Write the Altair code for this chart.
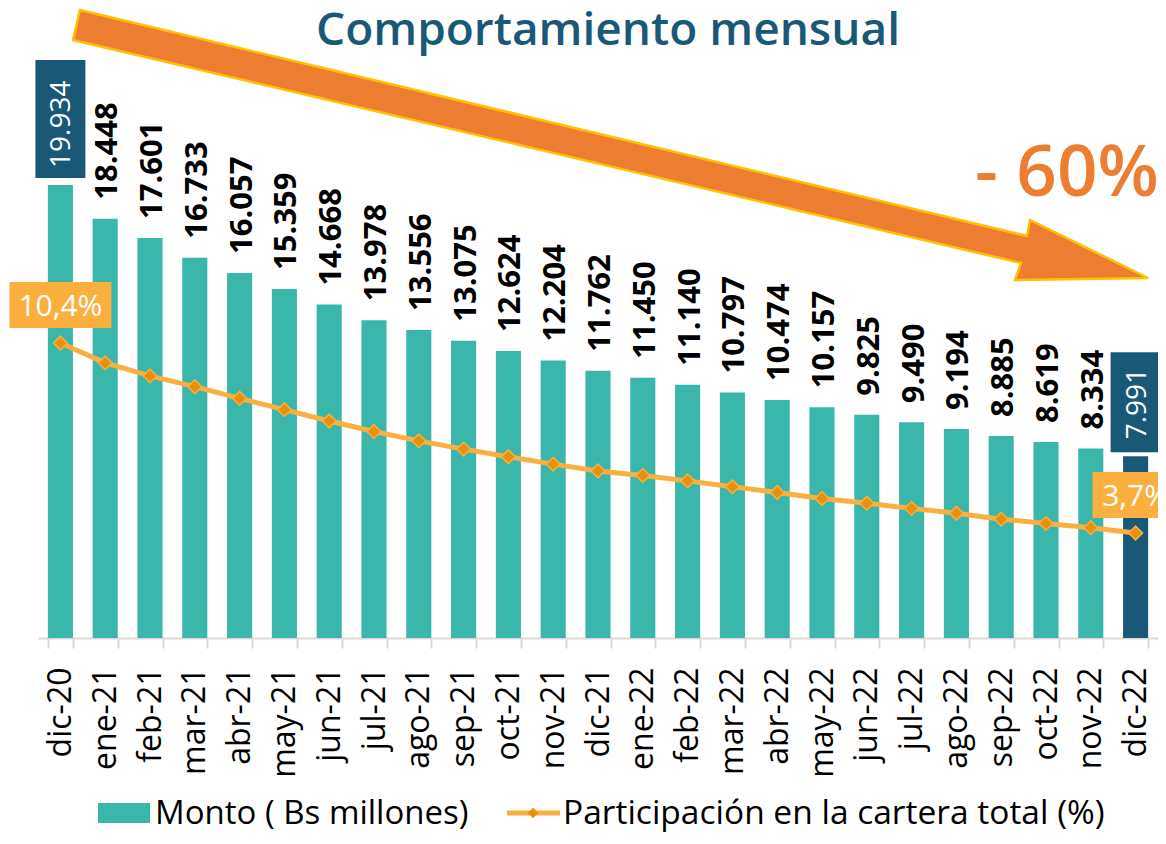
import altair as alt
import pandas as pd

# ---------------- data ----------------
months = ["dic-20", "ene-21", "feb-21", "mar-21", "abr-21", "may-21", "jun-21",
          "jul-21", "ago-21", "sep-21", "oct-21", "nov-21", "dic-21", "ene-22",
          "feb-22", "mar-22", "abr-22", "may-22", "jun-22", "jul-22", "ago-22",
          "sep-22", "oct-22", "nov-22", "dic-22"]
monto = [19934, 18448, 17601, 16733, 16057, 15359, 14668, 13978, 13556, 13075,
         12624, 12204, 11762, 11450, 11140, 10797, 10474, 10157, 9825, 9490,
         9194, 8885, 8619, 8334, 7991]
participacion = [10.4, 9.70, 9.24, 8.86, 8.45, 8.05, 7.65, 7.28, 6.95, 6.66,
                 6.39, 6.13, 5.89, 5.73, 5.54, 5.33, 5.13, 4.92, 4.75, 4.57,
                 4.40, 4.19, 4.04, 3.89, 3.7]
highlighted = ["dic-20", "dic-22"]
dark_bar = "dic-22"
pct_labels = {"dic-20": "10,4%", "dic-22": "3,7%"}

title_text = "Comportamiento mensual"
change_text = "- 60%"
legend_bar = "Monto ( Bs millones)"
legend_line = "Participación en la cartera total (%)"

df = pd.DataFrame({"mes": months, "monto": monto, "pct": participacion})
df["label"] = [f"{v:,}".replace(",", ".") for v in monto]
df["hl"] = df["mes"].isin(highlighted)
df["pct_label"] = [pct_labels.get(m, "") for m in months]

# ---------------- styles ----------------
TEAL = "#3BB6AB"
DARK = "#1A5878"
ORANGE_LINE = "#FBAF3F"
ORANGE_MARK = "#E8900C"
ARROW = "#ED7D31"
ARROW_EDGE = "#FFC000"
FONT = "Open Sans"

W, H = 1120, 628
BAR_MAX = 27630
PCT_MAX = 22.14

x_enc = alt.X(
    "mes:N", sort=months, title=None,
    scale=alt.Scale(paddingInner=0.44, paddingOuter=0.22),
    axis=alt.Axis(labelAngle=-90, labelFontSize=32, labelFont=FONT,
                  labelColor="black", domainColor="#d9d9d9", domainWidth=2,
                  tickColor="#d9d9d9", tickWidth=2, tickSize=10,
                  tickBand="extent", labelPadding=19, grid=False),
)
y_bar = alt.Y("monto:Q", scale=alt.Scale(domain=[0, BAR_MAX], nice=False, zero=True), axis=None)
y_bar2 = alt.Y2("monto:Q")
y_pct = alt.Y("pct:Q", scale=alt.Scale(domain=[0, PCT_MAX], nice=False, zero=True), axis=None)
y_pct2 = alt.Y2("pct:Q")

base = alt.Chart(df)

bars = base.mark_bar().encode(
    x=x_enc, y=y_bar,
    color=alt.condition(alt.datum.mes == dark_bar, alt.value(DARK), alt.value(TEAL)),
)

labels = base.transform_filter("!datum.hl").mark_text(
    angle=270, align="left", baseline="middle", dx=19, dy=3,
    fontSize=31, fontWeight="bold", font=FONT, color="black",
).encode(x=x_enc, y=y_bar, text="label:N")

box_first = base.transform_filter(alt.datum.mes == highlighted[0]).mark_bar(
    color=DARK, width=50, yOffset=-125, y2Offset=-7
).encode(x=x_enc, y=y_bar, y2=y_bar2)
box_last = base.transform_filter(alt.datum.mes == highlighted[1]).mark_bar(
    color=DARK, width=50, yOffset=-104, y2Offset=-4
).encode(x=x_enc, y=y_bar, y2=y_bar2)

hl_labels = base.transform_filter("datum.hl").mark_text(
    angle=270, align="left", baseline="middle", dx=17, dy=2,
    fontSize=28, font=FONT, color="white",
).encode(x=x_enc, y=y_bar, text="label:N")

line = base.mark_line(color=ORANGE_LINE, strokeWidth=5).encode(x=x_enc, y=y_pct)
points = base.mark_point(
    shape="diamond", filled=True, size=190, color=ORANGE_MARK,
    stroke=ORANGE_LINE, strokeWidth=1.5, opacity=1,
).encode(x=x_enc, y=y_pct)

pbox_first = base.transform_filter(alt.datum.mes == highlighted[0]).mark_bar(
    color=ORANGE_LINE, width=102, yOffset=-61, y2Offset=-15
).encode(x=x_enc, y=y_pct, y2=y_pct2)
pbox_last = base.transform_filter(alt.datum.mes == highlighted[1]).mark_bar(
    color=ORANGE_LINE, width=86, yOffset=-61, y2Offset=-15
).encode(x=x_enc, y=y_pct, y2=y_pct2)
pct_text = base.transform_filter("datum.hl").mark_text(
    color="white", fontSize=30, font=FONT, align="center", baseline="middle", dy=-36,
).encode(x=x_enc, y=y_pct, text="pct_label:N")

# ---------------- annotations ----------------
one = pd.DataFrame({"k": [0]})

arrow_path = "M42,0 L989,226 L992,210 L1110,268 L977,270 L983,253 L35,30 Z"
arrow = alt.Chart(one).mark_point(
    shape=arrow_path, size=4, filled=True, color=ARROW, fill=ARROW,
    stroke=ARROW_EDGE, strokeWidth=2.5, opacity=1, strokeJoin="miter",
).encode(x=alt.value(0), y=alt.value(0))

title = alt.Chart(one).mark_text(
    text=title_text, fontSize=46, fontWeight=600, font=FONT, color=DARK,
    align="center", baseline="alphabetic",
).encode(x=alt.value(570), y=alt.value(35))

change = alt.Chart(one).mark_text(
    text=change_text, fontSize=71, fontWeight=600, font=FONT, color=ARROW,
    align="left", baseline="alphabetic",
).encode(x=alt.value(937), y=alt.value(186))

LEG_Y = 803
leg_rect = alt.Chart(one).mark_rect(color=TEAL).encode(
    x=alt.value(60), x2=alt.value(112), y=alt.value(LEG_Y - 10), y2=alt.value(LEG_Y + 10))
leg_text1 = alt.Chart(one).mark_text(
    text=legend_bar, fontSize=33, font=FONT, color="black", align="left", baseline="middle",
).encode(x=alt.value(117), y=alt.value(LEG_Y + 1))
leg_line = alt.Chart(one).mark_rule(color=ORANGE_LINE, strokeWidth=5).encode(
    x=alt.value(469), x2=alt.value(522), y=alt.value(LEG_Y))
leg_pt = alt.Chart(one).mark_point(
    shape="diamond", filled=True, size=110, color=ORANGE_MARK, opacity=1,
).encode(x=alt.value(495), y=alt.value(LEG_Y))
leg_text2 = alt.Chart(one).mark_text(
    text=legend_line, fontSize=33.5, font=FONT, color="black", align="left", baseline="middle",
).encode(x=alt.value(525), y=alt.value(LEG_Y + 1))

chart = alt.layer(
    bars, labels, box_first, box_last, hl_labels,
    line, points, pbox_first, pbox_last, pct_text,
    arrow, title, change,
    leg_rect, leg_text1, leg_line, leg_pt, leg_text2,
).resolve_scale(y="independent").properties(
    width=W, height=H,
    autosize=alt.AutoSizeParams(type="none"),
    padding={"left": 30, "top": 2, "right": 0, "bottom": 194},
    background="white",
).configure_view(stroke=None)

chart.save("out.html", embed_options={"renderer": "svg", "actions": False})
